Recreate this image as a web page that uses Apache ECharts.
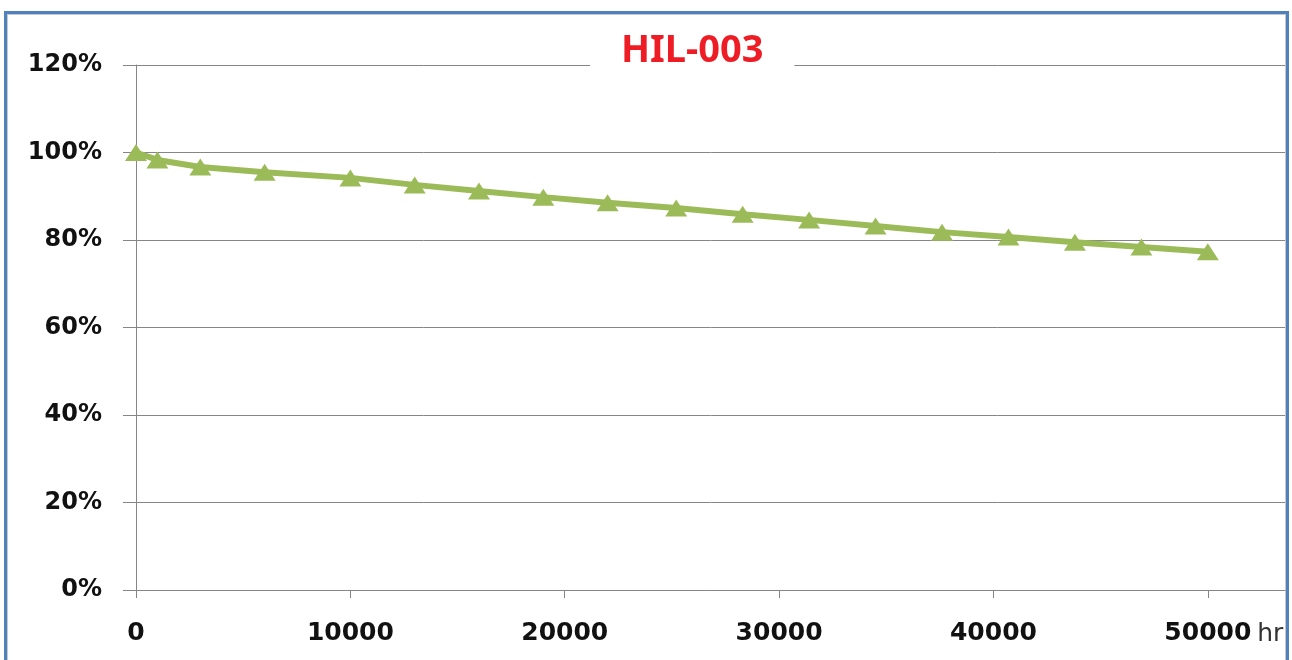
<!DOCTYPE html>
<html>
<head>
<meta charset="utf-8">
<script src="https://cdn.jsdelivr.net/npm/echarts@6/dist/echarts.min.js"></script>
<style>
html, body { margin: 0; padding: 0; background: #fff; }
#frame { position: absolute; left: 4px; top: 11px; width: 1279px; height: 700px;
  border: 3px solid #4f81bd; box-shadow: inset 0 0 0 1px #c8c8c8; }
#main { position: absolute; left: 0; top: 0; width: 1292px; height: 660px; }
</style>
</head>
<body>
<div id="frame"></div>
<div id="main"></div>
<script>
// 数据
var hours = [0, 1000, 3000, 6000, 10000, 13000, 16000, 19000, 22000, 25200,
  28300, 31400, 34500, 37600, 40700, 43800, 46900, 50000];
var ratio = [100, 98.3, 96.7, 95.5, 94.2, 92.6, 91.2, 89.8, 88.5, 87.3,
  85.9, 84.6, 83.2, 81.8, 80.7, 79.5, 78.4, 77.3];
var xTicks = [0, 10000, 20000, 30000, 40000, 50000];

var myChart = echarts.init(document.getElementById('main'));

myChart.setOption({
    animation: false,
    title: {
        text: 'HIL-003',
        left: 590,
        top: 28,
        padding: [4, 31, 4, 31],
        backgroundColor: '#fff',
        textStyle: {
            color: '#ee1c25',
            fontFamily: 'Noto Sans',
            fontWeight: 'bold',
            fontSize: 38
        }
    },
    grid: {
        left: 136,
        right: 7,
        top: 65,
        bottom: 70
    },
    xAxis: {
        type: 'value',
        min: 0,
        max: 53600,
        name: 'hr',
        nameLocation: 'end',
        nameGap: -30,
        nameTextStyle: {
            color: '#333',
            fontFamily: 'DejaVu Sans',
            fontSize: 25,
            verticalAlign: 'top',
            align: 'left',
            padding: [32, 0, 0, 0]
        },
        axisLine: { lineStyle: { color: '#868686', width: 1 } },
        axisTick: {
            show: true,
            length: 8,
            customValues: xTicks,
            lineStyle: { color: '#868686' }
        },
        axisLabel: {
            customValues: xTicks,
            formatter: function (v) { return String(v); },
            margin: 31,
            color: '#111',
            fontFamily: 'DejaVu Sans',
            fontWeight: 'bold',
            fontSize: 25
        },
        splitLine: { show: false }
    },
    yAxis: {
        type: 'value',
        min: 0,
        max: 120,
        interval: 20,
        axisLine: { show: true, lineStyle: { color: '#868686', width: 1 } },
        axisTick: { show: true, length: 13, lineStyle: { color: '#868686' } },
        axisLabel: {
            formatter: '{value}%',
            margin: 34,
            color: '#111',
            fontFamily: 'DejaVu Sans',
            fontWeight: 'bold',
            fontSize: 24
        },
        splitLine: { lineStyle: { color: '#868686', width: 1 } }
    },
    series: [{
        type: 'line',
        data: hours.map(function (h, i) { return [h, ratio[i]]; }),
        symbol: 'triangle',
        symbolSize: [22, 17],
        lineStyle: { color: '#9bbb59', width: 6 },
        itemStyle: { color: '#9bbb59' },
        z: 3
    }]
});
</script>
</body>
</html>
